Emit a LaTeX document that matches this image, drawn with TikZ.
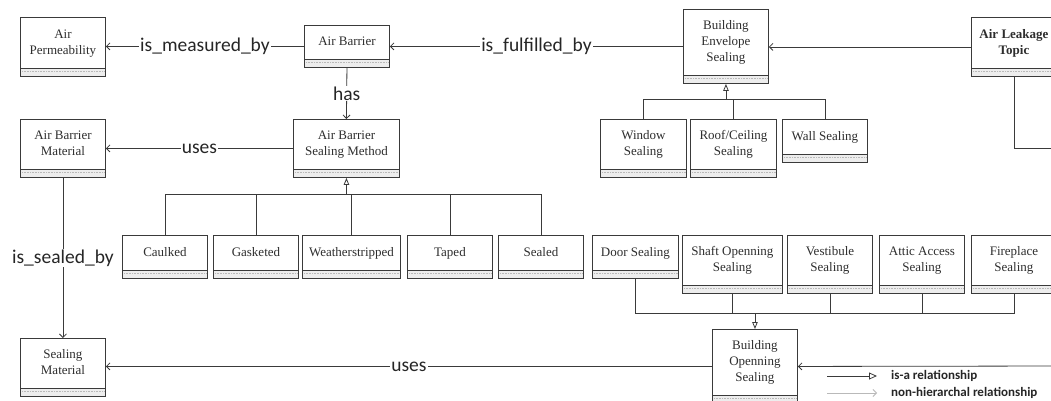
\documentclass[tikz,border=0pt]{standalone}
\usepackage{fontspec}
\setmainfont{Liberation Serif}
\newfontfamily\lblfont{Carlito}
\usetikzlibrary{arrows.meta}
\definecolor{ink}{HTML}{3A3A3A}
\definecolor{txt}{HTML}{2E2E2E}
\newcommand\bx[1]{\raisebox{4pt}[\height][\depth]{\begin{tabular}{@{}c@{}}#1\end{tabular}}}
\tikzset{
  umlbox/.style={draw=ink, line width=0.9pt, fill=white, inner sep=0pt, anchor=north west,
    text=txt, font=\fontsize{13}{16}\selectfont,
    path picture={
      \fill[gray!14] (path picture bounding box.south west) rectangle ([yshift=8pt]path picture bounding box.south east);
      \draw[ink, line width=0.8pt] ([yshift=8pt]path picture bounding box.south west) -- ([yshift=8pt]path picture bounding box.south east);
      \draw[gray!55, line width=0.4pt, dash pattern=on 1pt off 0.6pt] ([yshift=5pt]path picture bounding box.south west) -- ([yshift=5pt]path picture bounding box.south east);
    }},
  assoc/.style={draw=ink, line width=0.8pt, -{Straight Barb[length=3.5pt,width=7pt]}},
  isa/.style={draw=ink, line width=0.8pt, -{Triangle[open,length=7pt,width=5.5pt]}},
  plain/.style={draw=ink, line width=0.8pt},
  rel/.style={fill=white, inner sep=1pt, text=black!85, font=\lblfont\fontsize{19.5}{22}\selectfont},
  legend/.style={inner sep=0pt, text=black!85, font=\lblfont\bfseries\fontsize{13}{15}\selectfont},
}
\begin{document}
\begin{tikzpicture}[x=1pt,y=-1pt]
\useasboundingbox (0,0) rectangle (1051,400);
\fill[white] (0,0) rectangle (1051,400);
\clip (0,0) rectangle (1051,400);

% boxes
\node[umlbox, minimum width=85pt, minimum height=59pt] (perm) at (20,17) {\bx{Air\\Permeability}};
\node[umlbox, minimum width=85pt, minimum height=42pt] (ab) at (304,25) {\bx{Air Barrier}};
\node[umlbox, minimum width=85pt, minimum height=74pt] (bes) at (683,9) {\bx{Building\\Envelope\\Sealing}};
\node[umlbox, minimum width=85pt, minimum height=59pt] (alt) at (971,17) {\bx{\bfseries Air Leakage\\\bfseries Topic}};
\node[umlbox, minimum width=85pt, minimum height=58pt] (abm) at (20,119) {\bx{Air Barrier\\Material}};
\node[umlbox, minimum width=106pt, minimum height=58pt] (absm) at (293,119) {\bx{Air Barrier\\Sealing Method}};
\node[umlbox, minimum width=86pt, minimum height=58pt] (win) at (600,119) {\bx{Window\\Sealing}};
\node[umlbox, minimum width=86pt, minimum height=58pt] (roof) at (690,119) {\bx{Roof/Ceiling\\Sealing}};
\node[umlbox, minimum width=85pt, minimum height=43pt] (wall) at (782,119) {\bx{Wall Sealing}};
\node[umlbox, minimum width=85pt, minimum height=43pt] (caulk) at (122,235) {\bx{Caulked}};
\node[umlbox, minimum width=85pt, minimum height=43pt] (gask) at (213,235) {\bx{Gasketed}};
\node[umlbox, minimum width=98pt, minimum height=43pt] (weath) at (302,235) {\bx{Weatherstripped}};
\node[umlbox, minimum width=85pt, minimum height=43pt] (taped) at (407,235) {\bx{Taped}};
\node[umlbox, minimum width=85pt, minimum height=43pt] (sealed) at (498,235) {\bx{Sealed}};
\node[umlbox, minimum width=86pt, minimum height=43pt] (door) at (592,235) {\bx{Door Sealing}};
\node[umlbox, minimum width=100pt, minimum height=58pt] (shaft) at (682,235) {\bx{Shaft Openning\\Sealing}};
\node[umlbox, minimum width=85pt, minimum height=58pt] (vest) at (787,235) {\bx{Vestibule\\Sealing}};
\node[umlbox, minimum width=85pt, minimum height=58pt] (attic) at (879,235) {\bx{Attic Access\\Sealing}};
\node[umlbox, minimum width=85pt, minimum height=58pt] (fire) at (971,235) {\bx{Fireplace\\Sealing}};
\node[umlbox, minimum width=85pt, minimum height=58pt] (sm) at (20,338) {\bx{Sealing\\Material}};
\node[umlbox, minimum width=85pt, minimum height=74pt] (bos) at (712,329) {\bx{Building\\Openning\\Sealing}};

% associations
\draw[assoc] (ab.west) -- node[rel]{is\_measured\_by} (ab.west -| perm.east);
\draw[assoc] (bes.west) -- node[rel]{is\_fulfilled\_by} (bes.west -| ab.east);
\draw[assoc] (alt.west) -- (alt.west -| bes.east);
\draw[assoc] (ab.south) -- node[rel]{has} (absm.north);
\draw[assoc] (absm.west) -- node[rel]{uses} (abm.east);
\draw[assoc] (abm.south) -- node[rel]{is\_sealed\_by} (sm.north);
\draw[assoc] (bos.west) -- node[rel]{uses} (bos.west -| sm.east);
\coordinate (bosin) at (1060,366);
\draw[assoc] (bosin) -- (bos.east);
\coordinate (altout) at (1060,148);
\draw[plain] (alt.south) |- (altout);

% generalisations
\coordinate (absmbus) at (absm.south |- 0,194);
\foreach \c in {caulk,gask,weath,taped,sealed} \draw[plain] (\c.north) |- (absmbus);
\draw[isa] (absmbus) -- (absm.south);

\coordinate (besbus) at (bes.south |- 0,99);
\foreach \c in {win,roof,wall} \draw[plain] (\c.north) |- (besbus);
\draw[isa] (besbus) -- (bes.south);

\coordinate (bosbus) at (bos.north |- 0,313);
\foreach \c in {door,shaft,vest,attic,fire} \draw[plain] (\c.south) |- (bosbus);
\draw[isa] (bosbus) -- (bos.north);

% legend
\coordinate (lgA1) at (827,376); \coordinate (lgA2) at (877,376);
\draw[draw=ink, line width=0.8pt, -{Triangle[open,length=8pt,width=7pt]}] (lgA1) -- (lgA2);
\node[legend, anchor=west] (lgAt) at (891,376) {is-a relationship};
\coordinate (lgB1) at (827,393); \coordinate (lgB2) at (877,393);
\draw[assoc, draw=gray!55] (lgB1) -- (lgB2);
\node[legend, anchor=west] (lgBt) at (891,393) {non-hierarchal relationship};
\end{tikzpicture}
\end{document}
